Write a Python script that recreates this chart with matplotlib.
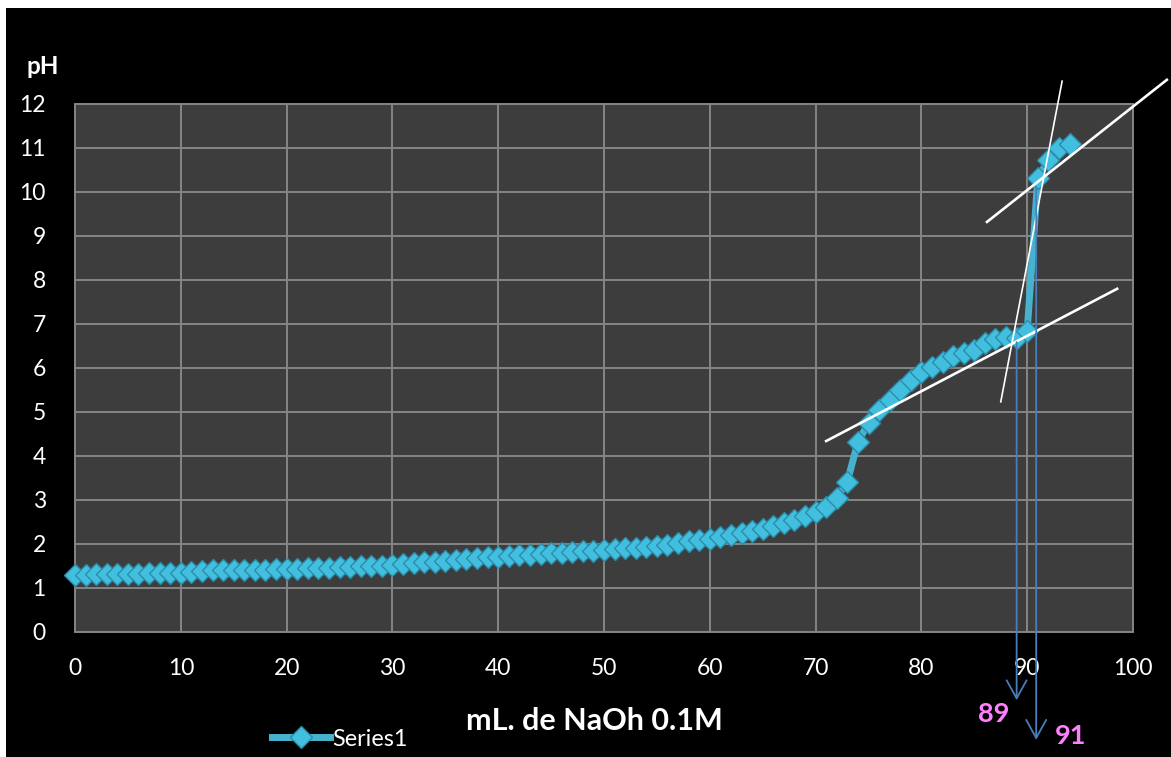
import numpy as np
import matplotlib.pyplot as plt
from matplotlib.patches import Rectangle
from matplotlib.lines import Line2D

plt.rcParams['font.family'] = ['Lato', 'DejaVu Sans']

# mL of NaOH added and measured pH
ml = list(range(0, 95))
ph = [1.30, 1.30, 1.31, 1.31, 1.31, 1.32, 1.32, 1.33, 1.33, 1.34,
      1.35, 1.37, 1.39, 1.40, 1.40, 1.41, 1.41, 1.42, 1.42, 1.43,
      1.43, 1.44, 1.45, 1.45, 1.46, 1.47, 1.48, 1.49, 1.50, 1.51,
      1.52, 1.54, 1.56, 1.58, 1.60, 1.62, 1.64, 1.66, 1.68, 1.70,
      1.71, 1.73, 1.74, 1.76, 1.77, 1.79, 1.80, 1.82, 1.83, 1.85,
      1.86, 1.88, 1.90, 1.92, 1.94, 1.96, 1.98, 2.02, 2.06, 2.09,
      2.11, 2.16, 2.21, 2.25, 2.30, 2.34, 2.40, 2.47, 2.55, 2.64,
      2.73, 2.83, 3.05, 3.42, 4.32, 4.75, 5.05, 5.28, 5.50, 5.72,
      5.90, 6.02, 6.14, 6.28, 6.34, 6.42, 6.56, 6.66, 6.70, 6.68,
      6.85, 10.32, 10.72, 11.00, 11.08]

# hand drawn tangent lines (x pair, y pair)
tan_low = ([71.0, 98.5], [4.34, 7.80])
tan_high = ([86.2, 103.2], [9.32, 12.55])
tan_steep = ([87.5, 93.3], [5.23, 12.52])

# equivalence point arrows: x, start pH, tip pH, label
arrows = [(89, 6.59, -1.55), (90.85, 10.11, -2.45)]

xticks = list(range(0, 101, 10))
yticks = list(range(0, 13))

W, H = 1171, 757
fig = plt.figure(figsize=(W / 100, H / 100), dpi=100)
fig.patch.set_facecolor('white')
fig.patches.append(Rectangle((6 / W, 0), 1, 1 - 8 / H, transform=fig.transFigure,
                             facecolor='black', edgecolor='none', zorder=-10))

ax = fig.add_axes([75 / W, 1 - 632 / H, (1133 - 75) / W, (632 - 104) / H])
ax.set_facecolor('#3d3d3d')
ax.set_xlim(0, 100)
ax.set_ylim(0, 12)
ax.set_xticks(xticks)
ax.set_yticks(yticks)
ax.grid(True, color='#858585', lw=1.4)
ax.set_axisbelow(True)
for s in ax.spines.values():
    s.set_color('#858585')
    s.set_linewidth(1.4)
ax.tick_params(length=0, colors='white', labelsize=16.5)
ax.tick_params(axis='x', pad=19)
ax.tick_params(axis='y', pad=21)

ax.plot(ml, ph, color='#47b2ce', lw=5, marker='D', ms=11.5,
        mfc='#42bfdf', mec='#2a8ca8', mew=1, zorder=3, clip_on=False)

for xs, ys, lw in [(tan_low[0], tan_low[1], 1.9), (tan_high[0], tan_high[1], 1.9),
                   (tan_steep[0], tan_steep[1], 1.2)]:
    ax.plot(xs, ys, color='white', lw=lw, clip_on=False, zorder=4)

for xa, y0, y1 in arrows:
    ax.annotate('', xy=(xa, y1), xytext=(xa, y0), annotation_clip=False,
                arrowprops=dict(arrowstyle='->,head_length=0.65,head_width=0.36',
                                mutation_scale=20, color='#4a7ebb', lw=1.3,
                                shrinkA=0, shrinkB=0), zorder=5)

fig.text(994 / W, 1 - 714 / H, '89', color='#ff80ff', fontsize=19.5,
         fontweight='bold', ha='center', va='center')
fig.text(1071 / W, 1 - 736 / H, '91', color='#ff80ff', fontsize=19.5,
         fontweight='bold', ha='center', va='center')

fig.text(43 / W, 1 - 66 / H, 'pH', color='white', fontsize=17.5,
         fontweight='bold', ha='center', va='center')
fig.text(594 / W, 1 - 721 / H, 'mL. de NaOh 0.1M', color='white', fontsize=22,
         fontweight='bold', ha='center', va='center')

h = Line2D([], [], color='#47b2ce', lw=5, marker='D', ms=11.5,
           mfc='#42bfdf', mec='#2a8ca8', mew=1)
fig.legend([h], ['Series1'], loc='center left', bbox_to_anchor=(272 / W, 1 - 739 / H),
           frameon=False, borderaxespad=0, borderpad=0, handlelength=2.5,
           handletextpad=0.1, fontsize=16.8, labelcolor='white')

fig.savefig('out.png', dpi=100, facecolor=fig.get_facecolor())
